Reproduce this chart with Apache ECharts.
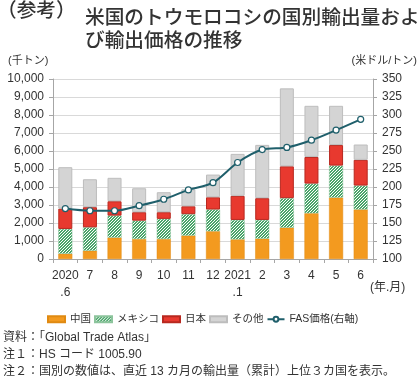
<!DOCTYPE html>
<html>
<head>
<meta charset="utf-8">
<script src="https://cdn.jsdelivr.net/npm/echarts@6/dist/echarts.min.js"></script>
<style>
  html, body { margin: 0; padding: 0; background: #fff; }
  #chart { width: 420px; height: 376px; }
</style>
</head>
<body>
<div id="chart"></div>
<script>
// 月（年.月）
const categories = ['2020\n.6', '7', '8', '9', '10', '11', '12', '2021\n.1', '2', '3', '4', '5', '6'];
// 輸出量（千トン）
const chinaData  = [290, 460, 1190, 1110, 1110, 1300, 1540, 1090, 1130, 1740, 2540, 3410, 2750];
const mexicoData = [1380, 1300, 1220, 1020, 1120, 1190, 1210, 1080, 1040, 1640, 1650, 1780, 1330];
const japanData  = [1130, 1120, 800, 470, 370, 440, 680, 1340, 1210, 1770, 1480, 1140, 1430];
const otherData  = [2300, 1550, 1300, 1330, 1110, 940, 1260, 2330, 2960, 4330, 2840, 2180, 850];
// FAS価格（米ドル/トン）
const fasData = [170, 167, 167, 174, 183, 196, 206, 234, 252, 255, 265, 279, 294];

const FONT = "'Liberation Sans', 'Noto Sans CJK JP', sans-serif";

// メキシコ用の斜線パターン
function makeHatch() {
  const c = document.createElement('canvas');
  c.width = 3; c.height = 3;
  const ctx = c.getContext('2d');
  ctx.fillStyle = '#ffffff';
  ctx.fillRect(0, 0, 3, 3);
  ctx.fillStyle = '#4aa56a';
  for (let y = 0; y < 3; y++) {
    for (let x = 0; x < 3; x++) {
      if ((x + y) % 3 < 2) ctx.fillRect(x, y, 1, 1);
    }
  }
  return c;
}

const myChart = echarts.init(document.getElementById('chart'));

const barBase = { type: 'bar', stack: 'vol', barWidth: 14, yAxisIndex: 0 };

const option = {
  animation: false,
  textStyle: { fontFamily: FONT, color: '#333' },
  title: {
    text: '米国のトウモロコシの国別輸出量およ\nび輸出価格の推移',
    left: 80, top: 2,
    textStyle: { fontFamily: FONT, fontSize: 19.7, fontWeight: 500, color: '#333', lineHeight: 23 }
  },
  graphic: [
    { type: 'text', left: -3, top: 2, style: { text: '（参考）', font: '500 19.7px ' + FONT, fill: '#333' } },
    { type: 'text', left: 8, top: 55, style: { text: '(千トン)', font: '11px ' + FONT, fill: '#333' } },
    { type: 'text', right: 3, top: 55, style: { text: '(米ドル/トン)', font: '11px ' + FONT, fill: '#333' } },
    { type: 'text', left: 370, top: 282, style: { text: '(年.月)', font: '12px ' + FONT, fill: '#333' } },
    { type: 'text', left: 3, top: 329, style: {
        text: '資料：「Global Trade Atlas」\n注１：HS コード 1005.90\n注２：国別の数値は、直近 13 カ月の輸出量（累計）上位３カ国を表示。',
        font: '12px ' + FONT, fill: '#333', lineHeight: 17 } }
  ],
  grid: { left: 53, right: 47, top: 79, bottom: 117 },
  legend: {
    left: 42, top: 309,
    itemWidth: 17, itemHeight: 6, itemGap: 3,
    textStyle: { fontFamily: FONT, fontSize: 10.5, color: '#333' },
    data: [
      { name: '中国', icon: 'rect' },
      { name: 'メキシコ', icon: 'rect' },
      { name: '日本', icon: 'rect' },
      { name: 'その他', icon: 'rect' },
      { name: 'FAS価格(右軸)' }
    ]
  },
  xAxis: {
    type: 'category',
    data: categories,
    axisLine: { lineStyle: { color: '#a6a6a6' } },
    axisTick: { show: true, length: 4, lineStyle: { color: '#a6a6a6' } },
    axisLabel: { color: '#333', fontSize: 12, lineHeight: 17, margin: 8, interval: 0 }
  },
  yAxis: [
    {
      type: 'value', min: 0, max: 10000, interval: 1000,
      axisLine: { show: true, lineStyle: { color: '#a6a6a6' } },
      axisTick: { show: true, length: 4, lineStyle: { color: '#a6a6a6' } },
      splitLine: { lineStyle: { color: '#d9d9d9' } },
      axisLabel: {
        color: '#333', fontSize: 12, margin: 9,
        formatter: v => v.toLocaleString('en-US')
      }
    },
    {
      type: 'value', min: 100, max: 350, interval: 25,
      axisLine: { show: true, lineStyle: { color: '#a6a6a6' } },
      axisTick: { show: true, length: 4, lineStyle: { color: '#a6a6a6' } },
      splitLine: { show: false },
      axisLabel: { color: '#333', fontSize: 12, margin: 9 }
    }
  ],
  series: [
    Object.assign({}, barBase, {
      name: '中国', data: chinaData,
      itemStyle: { color: '#f39a1f', borderColor: '#e08a12', borderWidth: 0.5 }
    }),
    Object.assign({}, barBase, {
      name: 'メキシコ', data: mexicoData,
      itemStyle: { color: { image: makeHatch(), repeat: 'repeat' }, borderColor: '#8cc49c', borderWidth: 0.5 }
    }),
    Object.assign({}, barBase, {
      name: '日本', data: japanData,
      itemStyle: { color: '#e8392f', borderColor: '#b8281f', borderWidth: 1 }
    }),
    Object.assign({}, barBase, {
      name: 'その他', data: otherData,
      itemStyle: { color: '#d4d4d4', borderColor: '#bdbdbd', borderWidth: 1 }
    }),
    {
      name: 'FAS価格(右軸)', type: 'line', yAxisIndex: 1,
      data: fasData,
      smooth: 0.3,
      symbol: 'circle', symbolSize: 6,
      lineStyle: { color: '#1f5f6b', width: 2 },
      itemStyle: { color: '#ffffff', borderColor: '#1f5f6b', borderWidth: 1.2 },
      z: 5
    }
  ]
};

myChart.setOption(option);
</script>
</body>
</html>
